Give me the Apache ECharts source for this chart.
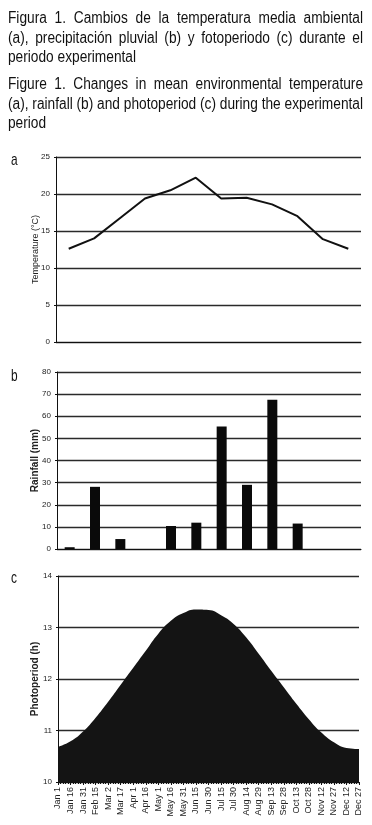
<!DOCTYPE html>
<html>
<head>
<meta charset="utf-8">
<script src="https://cdn.jsdelivr.net/npm/echarts@6/dist/echarts.min.js"></script>
<style>
  html, body { margin: 0; padding: 0; background: #fff; }
  #chart { width: 372px; height: 825px; }
</style>
</head>
<body>
<div id="chart"></div>
<script>
// monthly values (panels a and b)
const months = ['Jan', 'Feb', 'Mar', 'Apr', 'May', 'Jun', 'Jul', 'Aug', 'Sep', 'Oct', 'Nov', 'Dec']
const temperature = [12.6, 14.0, 16.7, 19.4, 20.5, 22.2, 19.4, 19.5, 18.6, 17.0, 13.9, 12.6]
const rainfall = [0.8, 28.1, 4.5, 0, 10.4, 11.9, 55.4, 29.0, 67.5, 11.5, 0, 0]

// photoperiod every 15 days (panel c)
const photoDates = ['Jan 1', 'Jan 16', 'Jan 31', 'Feb 15', 'Mar 2', 'Mar 17', 'Apr 1', 'Apr 16', 'May 1',
  'May 16', 'May 31', 'Jun 15', 'Jun 30', 'Jul 15', 'Jul 30', 'Aug 14', 'Aug 29', 'Sep 13', 'Sep 28',
  'Oct 13', 'Oct 28', 'Nov 12', 'Nov 27', 'Dec 12', 'Dec 27']
const photoperiod = [10.68, 10.79, 10.98, 11.25, 11.56, 11.89, 12.22, 12.55, 12.88, 13.13, 13.28, 13.35,
  13.34, 13.24, 13.07, 12.81, 12.49, 12.16, 11.84, 11.52, 11.22, 10.96, 10.77, 10.66, 10.64]

const captionEs = [
  'Figura 1. Cambios de la temperatura media ambiental',
  '(a), precipitación pluvial (b) y fotoperiodo (c) durante el',
  'periodo experimental'
]
const captionEn = [
  'Figure 1. Changes in mean environmental temperature',
  '(a), rainfall (b) and photoperiod (c) during the experimental',
  'period'
]

const FONT = '"Liberation Sans", Arial, sans-serif'
const ink = '#111'

// caption is justified, so words are placed one by one
const ctx = document.createElement('canvas').getContext('2d')
ctx.font = '16px ' + FONT
const capLeft = 8
const capWidth = 355
const spaceW = ctx.measureText(' ').width
let scale = 1
;[captionEs, captionEn].forEach(p => {
  p.slice(0, -1).forEach(line => {
    const w = ctx.measureText(line).width
    scale = Math.min(scale, capWidth / w)
  })
})

const graphics = []
function addParagraph(lines, rows) {
  lines.forEach((line, li) => {
    const words = line.split(' ')
    const widths = words.map(w => ctx.measureText(w).width * scale)
    const total = widths.reduce((a, b) => a + b, 0)
    const last = li === lines.length - 1
    const gap = last ? spaceW * scale : (capWidth - total) / (words.length - 1)
    let x = capLeft
    words.forEach((w, i) => {
      graphics.push({
        type: 'text', x: x, y: rows[li], scaleX: scale,
        style: { text: w, font: '16px ' + FONT, fill: ink, textVerticalAlign: 'middle' }
      })
      x += widths[i] + gap
    })
  })
}
addParagraph(captionEs, [18.5, 38.5, 57.5])
addParagraph(captionEn, [85, 105, 124])

// panel letters
;[['a', 160], ['b', 376], ['c', 578]].forEach(([t, y]) => {
  graphics.push({
    type: 'text', x: 11, y: y, scaleX: 0.7,
    style: { text: t, font: '17px ' + FONT, fill: ink, textVerticalAlign: 'middle' }
  })
})

const gridLine = { lineStyle: { color: '#2a2a2a', width: 1.3 } }
const yLabel = { fontSize: 8, margin: 6, color: '#222', fontFamily: FONT }

const option = {
  animation: false,
  backgroundColor: '#fff',
  textStyle: { fontFamily: FONT },
  graphic: graphics,
  grid: [
    { left: 56, right: 11, top: 157, height: 185, outerBoundsMode: 'none' },
    { left: 57, right: 11, top: 372, height: 177, outerBoundsMode: 'none' },
    { left: 58, right: 13, top: 576, height: 206, outerBoundsMode: 'none' }
  ],
  xAxis: [
    {
      gridIndex: 0, type: 'category', data: months,
      axisLine: { lineStyle: { color: ink } }, axisTick: { show: false }, axisLabel: { show: false }
    },
    {
      gridIndex: 1, type: 'category', data: months,
      axisLine: { lineStyle: { color: ink } }, axisTick: { show: false }, axisLabel: { show: false }
    },
    {
      gridIndex: 2, type: 'value', min: 0, max: 24, interval: 1,
      axisLine: { lineStyle: { color: ink } },
      axisTick: { length: 3, lineStyle: { color: ink } },
      minorTick: { show: true, splitNumber: 5, length: 2, lineStyle: { color: ink } },
      splitLine: { show: false },
      axisLabel: {
        rotate: 90, fontSize: 9, margin: 5, color: '#222',
        formatter: v => photoDates[v] || ''
      }
    }
  ],
  yAxis: [
    {
      gridIndex: 0, type: 'value', min: 0, max: 25, interval: 5,
      name: 'Temperature (°C)', nameLocation: 'middle', nameGap: 16, nameMoveOverlap: false,
      nameTextStyle: { fontSize: 9, color: '#222' },
      axisLine: { show: true, lineStyle: { color: ink } },
      axisTick: { show: true, length: 2 },
      axisLabel: yLabel, splitLine: gridLine
    },
    {
      gridIndex: 1, type: 'value', min: 0, max: 80, interval: 10,
      name: 'Rainfall (mm)', nameLocation: 'middle', nameGap: 17, nameMoveOverlap: false,
      nameTextStyle: { fontSize: 10, fontWeight: 'bold', color: '#222' },
      axisLine: { show: true, lineStyle: { color: ink } },
      axisTick: { show: true, length: 2 },
      axisLabel: yLabel, splitLine: gridLine
    },
    {
      gridIndex: 2, type: 'value', min: 10, max: 14, interval: 1,
      name: 'Photoperiod (h)', nameLocation: 'middle', nameGap: 18, nameMoveOverlap: false,
      nameTextStyle: { fontSize: 10, fontWeight: 'bold', color: '#222' },
      axisLine: { show: true, lineStyle: { color: ink } },
      axisTick: { show: true, length: 2 },
      axisLabel: yLabel, splitLine: gridLine
    }
  ],
  series: [
    {
      name: 'Temperature', type: 'line', xAxisIndex: 0, yAxisIndex: 0,
      data: temperature, symbol: 'none',
      lineStyle: { color: ink, width: 2 }
    },
    {
      name: 'Rainfall', type: 'bar', xAxisIndex: 1, yAxisIndex: 1,
      data: rainfall, barWidth: 10,
      itemStyle: { color: '#0a0a0a' }
    },
    {
      name: 'Photoperiod', type: 'line', xAxisIndex: 2, yAxisIndex: 2,
      data: photoperiod.map((v, i) => [i, v]), smooth: true, symbol: 'none',
      lineStyle: { width: 0 },
      areaStyle: { color: '#141414', opacity: 1, origin: 'start' }
    }
  ]
}

const chart = echarts.init(document.getElementById('chart'))
chart.setOption(option)
</script>
</body>
</html>
